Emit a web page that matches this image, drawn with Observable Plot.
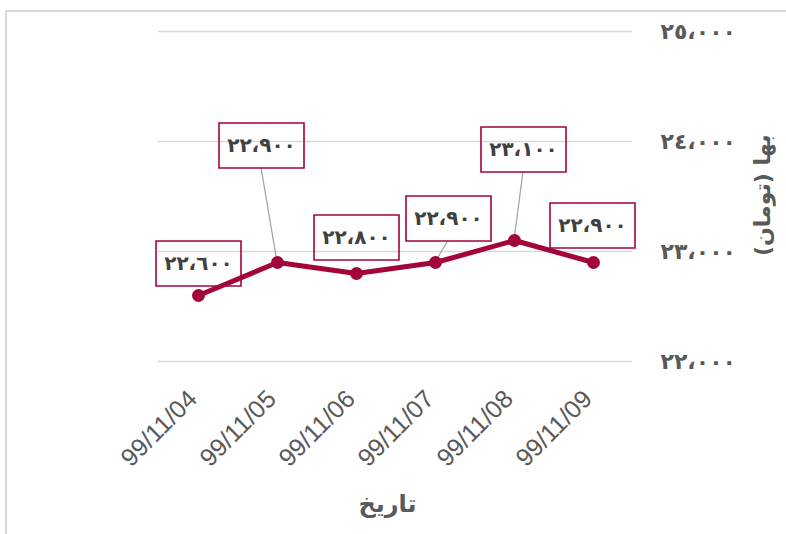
<!DOCTYPE html>
<html>
<head>
<meta charset="utf-8">
<script src="https://cdn.jsdelivr.net/npm/d3@7"></script>
<script src="https://cdn.jsdelivr.net/npm/@observablehq/plot@0.6"></script>
<style>
  html, body { margin: 0; padding: 0; background: #fff; }
  #wrap { position: relative; width: 786px; height: 534px; overflow: hidden; }
  #frame { position: absolute; left: 5px; top: 10px; width: 800px; height: 600px;
           border-top: 2px solid #d9d9d9; border-left: 2px solid #d9d9d9; }
  #chart { position: absolute; left: 0; top: 0; }
</style>
</head>
<body>
<div id="wrap"><div id="frame"></div><div id="chart"></div></div>
<script>
// ---- data ----
const dates = ["99/11/04", "99/11/05", "99/11/06", "99/11/07", "99/11/08", "99/11/09"];
const prices = [22600, 22900, 22800, 22900, 23100, 22900];
const priceLabels = ["٢٢،٦٠٠", "٢٢،٩٠٠", "٢٢،٨٠٠", "٢٢،٩٠٠", "٢٣،١٠٠", "٢٢،٩٠٠"];
const yTicks = [22000, 23000, 24000, 25000];
const yTickLabels = ["٢٢،٠٠٠", "٢٣،٠٠٠", "٢٤،٠٠٠", "٢٥،٠٠٠"];
const xTitle = "تاریخ";
const yTitle = "بها (تومان)";

// ---- layout (label box offsets from their point, in px) ----
const labelOffsets = [[0, -32], [-16, -117], [0, -36], [13, -44], [9, -91], [-1, -37]];
const boxW = 85, boxH = 45;

const crimson = "#A3043C";
const grayText = "#595959";
const arabicFont = "DejaVu Sans";

const data = dates.map((date, i) => ({date, price: prices[i], label: priceLabels[i], off: labelOffsets[i]}));

const rectSymbol = {draw(context) { context.rect(-boxW / 2, -boxH / 2, boxW, boxH); }};

// leader lines: from bottom center of label box to the point (only when box is away from point)
function leaders(index, scales) {
  const g = d3.create("svg:g");
  data.forEach(d => {
    const px = scales.x(d.date), py = scales.y(d.price);
    const bx = px + d.off[0], by = py + d.off[1] + boxH / 2;
    if (py - by > 18) {
      g.append("line").attr("x1", bx).attr("y1", by).attr("x2", px).attr("y2", py)
        .attr("stroke", "#a6a6a6").attr("stroke-width", 1.3);
    }
  });
  return g.node();
}

const labelMarks = data.flatMap(d => [
  Plot.dot([d], {x: "date", y: "price", dx: d.off[0], dy: d.off[1], symbol: rectSymbol,
                 fill: "none", stroke: crimson, strokeWidth: 1.6}),
  Plot.text([d], {x: "date", y: "price", dx: d.off[0], dy: d.off[1], text: "label",
                  fontSize: 20, fontWeight: "bold", fill: "#404040", fontFamily: arabicFont})
]);

const chart = Plot.plot({
  width: 786,
  height: 534,
  marginTop: 31,
  marginBottom: 173,
  marginLeft: 158,
  marginRight: 154,
  style: {background: "transparent", overflow: "visible"},
  x: {type: "point", domain: dates, padding: 0.5, axis: null},
  y: {domain: [22000, 25000], axis: null},
  marks: [
    Plot.ruleY(yTicks, {stroke: "#d9d9d9", strokeWidth: 1.5}),
    Plot.text(yTicks, {y: d => d, text: (d, i) => yTickLabels[i], frameAnchor: "right", dx: 28,
                       textAnchor: "start", fontSize: 22, fontWeight: "bold", fill: grayText, fontFamily: arabicFont}),
    Plot.text(dates, {x: d => d, frameAnchor: "bottom", rotate: -45, textAnchor: "end",
                      dx: 0, dy: 39, fontSize: 25, fill: grayText, fontFamily: "Liberation Sans"}),
    Plot.text([xTitle], {frameAnchor: "bottom", dx: -8, dy: 150, fontSize: 24, fontWeight: "bold",
                         fill: grayText, fontFamily: arabicFont}),
    Plot.text([yTitle], {frameAnchor: "right", dx: 130, dy: -62, rotate: -90, fontSize: 22, fontWeight: "bold",
                         fill: grayText, fontFamily: arabicFont}),
    leaders,
    Plot.line(data, {x: "date", y: "price", stroke: crimson, strokeWidth: 5, strokeLinejoin: "round"}),
    Plot.dot(data, {x: "date", y: "price", r: 6.5, fill: crimson}),
    ...labelMarks
  ]
});
document.getElementById("chart").appendChild(chart);
</script>
</body>
</html>
